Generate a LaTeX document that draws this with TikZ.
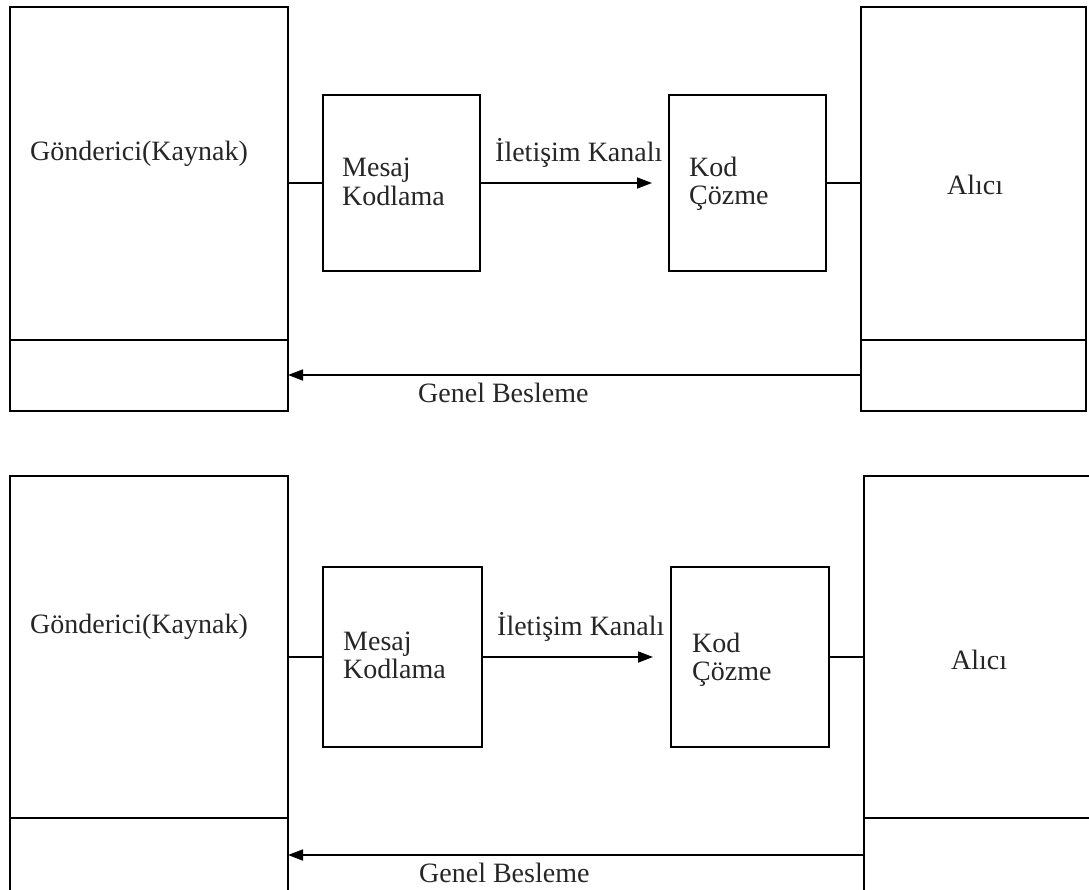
\documentclass[tikz,border=0pt]{standalone}
\usepackage{fontspec}
\setmainfont{Liberation Serif}
\usetikzlibrary{arrows.meta}
\begin{document}
\begin{tikzpicture}[x=1pt,y=-1pt,
  box/.style={draw=black, line width=1.8pt, rectangle, inner sep=0pt, outer sep=0pt},
  lbl/.style={anchor=base west, inner sep=0pt, text=black!85, font=\fontsize{28}{30}\selectfont},
  conn/.style={draw=black, line width=1.6pt},
  arr/.style={conn, -{Triangle[length=15pt,width=11pt]}}]
\clip (0,0) rectangle (1089,890);
\fill[white] (0,0) rectangle (1089,890);
% ---------- top diagram ----------
\node[box, minimum width=278pt, minimum height=333pt] (g1a) at (149,173.5) {};
\node[box, minimum width=278pt, minimum height=71pt] (g1b) at (149,375.5) {};
\node[box, minimum width=157pt, minimum height=176pt] (m1) at (401.5,183) {};
\node[box, minimum width=157pt, minimum height=176pt] (k1) at (747.5,183) {};
\node[box, minimum width=225pt, minimum height=333pt] (a1a) at (973.5,173.5) {};
\node[box, minimum width=225pt, minimum height=71pt] (a1b) at (973.5,375.5) {};
\node[lbl] (tg1) at (30,161) {Gönderici(Kaynak)};
\node[lbl] (tm1) at (342,177) {Mesaj};
\node[lbl] (tm1b) at (342,206) {Kodlama};
\node[lbl] (ti1) at (495,162) {İletişim Kanalı};
\node[lbl] (tk1) at (689,177) {Kod};
\node[lbl] (tk1b) at (689,205) {Çözme};
\node[lbl] (ta1) at (947,195) {Alıcı};
\node[lbl] (tb1) at (418,402) {Genel Besleme};
\coordinate (c1) at (652,183);
\coordinate (f1) at (861,375);
\draw[conn] (m1.west) -- (m1.west -| g1a.east);
\draw[arr] (m1.east) -- (c1);
\draw[conn] (k1.east) -- (k1.east -| a1a.west);
\draw[arr] (f1) -- (f1 -| g1b.east);
% ---------- bottom diagram ----------
\node[box, minimum width=278pt, minimum height=342pt] (g2a) at (149,647) {};
\node[box, minimum width=278pt, minimum height=82pt] (g2b) at (149,859) {};
\node[box, minimum width=159pt, minimum height=180pt] (m2) at (402.5,657) {};
\node[box, minimum width=158pt, minimum height=180pt] (k2) at (750,657) {};
\node[box, minimum width=236pt, minimum height=342pt] (a2a) at (982,647) {};
\node[box, minimum width=236pt, minimum height=82pt] (a2b) at (982,859) {};
\node[lbl] (tg2) at (30,633) {Gönderici(Kaynak)};
\node[lbl] (tm2) at (343,650) {Mesaj};
\node[lbl] (tm2b) at (343,678) {Kodlama};
\node[lbl] (ti2) at (497,635) {İletişim Kanalı};
\node[lbl] (tk2) at (692,652) {Kod};
\node[lbl] (tk2b) at (692,680) {Çözme};
\node[lbl] (ta2) at (951,669) {Alıcı};
\node[lbl] (tb2) at (419,882) {Genel Besleme};
\coordinate (c2) at (653,657);
\coordinate (f2) at (864,855);
\draw[conn] (m2.west) -- (m2.west -| g2a.east);
\draw[arr] (m2.east) -- (c2);
\draw[conn] (k2.east) -- (k2.east -| a2a.west);
\draw[arr] (f2) -- (f2 -| g2b.east);
\end{tikzpicture}
\end{document}
